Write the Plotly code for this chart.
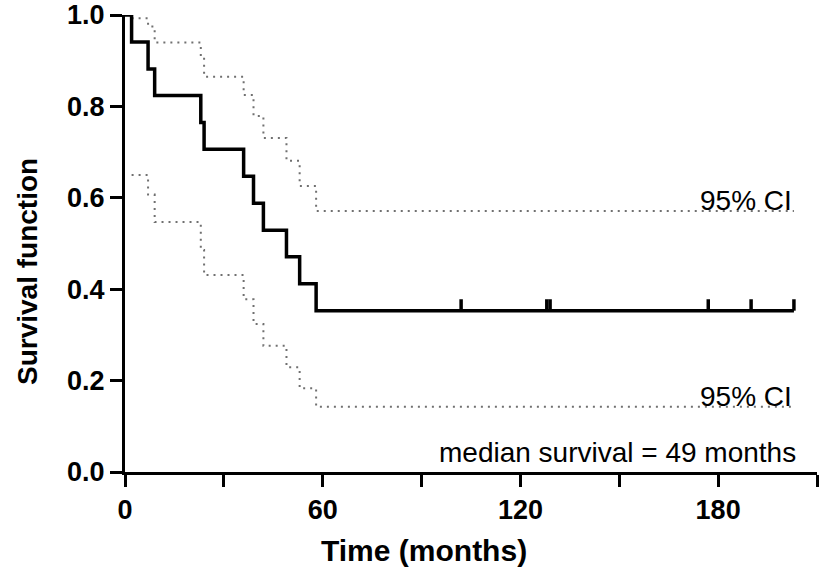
import plotly.graph_objects as go

# Kaplan-Meier estimate (time in months, survival probability)
km_times = [0, 2, 7, 9, 23, 24, 36, 39, 42, 49, 53, 58, 203]
km_surv = [1.0, 0.941, 0.882, 0.824, 0.765, 0.706, 0.647, 0.588, 0.529, 0.471, 0.412, 0.353, 0.353]

# 95% confidence limits
ci_times = [2, 7, 9, 23, 24, 36, 39, 42, 49, 53, 58, 203]
ci_upper = [0.993, 0.975, 0.940, 0.909, 0.865, 0.825, 0.779, 0.731, 0.681, 0.626, 0.571, 0.571]
ci_lower = [0.650, 0.607, 0.547, 0.486, 0.431, 0.378, 0.324, 0.276, 0.229, 0.183, 0.143, 0.143]

# censored observations
censor_times = [102, 128, 129, 177, 190, 203]
censor_surv = 0.353

x_tickvals = [0, 30, 60, 90, 120, 150, 180, 210]
x_ticktext = ["0", "", "60", "", "120", "", "180", ""]
y_tickvals = [0.0, 0.2, 0.4, 0.6, 0.8, 1.0]
y_ticktext = ["0.0", "0.2", "0.4", "0.6", "0.8", "1.0"]

FONT = "Liberation Sans, Arial, Helvetica, sans-serif"
TICK_H = 0.025

fig = go.Figure()

for vals in (ci_upper, ci_lower):
    fig.add_trace(go.Scatter(
        x=ci_times, y=vals, mode="lines", line_shape="hv",
        line=dict(color="#707070", width=2, dash="2px,5px"),
        showlegend=False, hoverinfo="skip"))

fig.add_trace(go.Scatter(
    x=km_times, y=km_surv, mode="lines", line_shape="hv",
    line=dict(color="black", width=3.5), showlegend=False))

cx, cy = [], []
for t in censor_times:
    cx += [t, t, None]
    cy += [censor_surv, censor_surv + TICK_H, None]
fig.add_trace(go.Scatter(x=cx, y=cy, mode="lines",
                         line=dict(color="black", width=3.5), showlegend=False))

fig.add_annotation(x=ci_times[-1], y=ci_upper[-1], text="95% CI", showarrow=False,
                   xanchor="right", yanchor="bottom", yshift=-7,
                   font=dict(family=FONT, size=28, color="black"))
fig.add_annotation(x=ci_times[-1], y=ci_lower[-1], text="95% CI", showarrow=False,
                   xanchor="right", yanchor="bottom", yshift=-7,
                   font=dict(family=FONT, size=28, color="black"))
fig.add_annotation(x=1.0, y=0.0, xref="paper", yref="paper", xshift=-19,
                   text="median survival = 49 months", showarrow=False,
                   xanchor="right", yanchor="bottom", yshift=2,
                   font=dict(family=FONT, size=28, color="black"))

fig.add_annotation(x=0, y=0.4376, xref="paper", yref="paper", xshift=-98,
                   text="<b>Survival function</b>", textangle=-90, showarrow=False,
                   xanchor="center", yanchor="middle",
                   font=dict(family=FONT, size=28, color="black"))
fig.add_annotation(x=0.4328, y=0, xref="paper", yref="paper", yshift=-78,
                   text="<b>Time (months)</b>", showarrow=False,
                   xanchor="center", yanchor="middle",
                   font=dict(family=FONT, size=30, color="black"))

fig.update_xaxes(range=[0, 210], tickvals=x_tickvals, ticktext=x_ticktext,
                 showline=True, linecolor="black", linewidth=3,
                 ticks="outside", ticklen=12, tickwidth=3, tickcolor="black",
                 showgrid=False, zeroline=False, automargin=False,
                 ticklabeloverflow="allow",
                 tickfont=dict(family=FONT, size=27, color="black", weight="bold"))
fig.update_yaxes(range=[0, 1], tickvals=y_tickvals, ticktext=y_ticktext,
                 showline=True, linecolor="black", linewidth=3,
                 ticks="outside", ticklen=12, tickwidth=3, tickcolor="black",
                 showgrid=False, zeroline=False, automargin=False,
                 ticklabeloverflow="allow",
                 tickfont=dict(family=FONT, size=27, color="black", weight="bold"))

fig.update_layout(width=819, height=578, margin=dict(l=125, r=2, t=15, b=106),
                  plot_bgcolor="white", paper_bgcolor="white")

# remove the default 8px page margin so the figure sits at the window origin
fig.write_html("out.html", config={"displayModeBar": False},
               post_script="document.body.style.margin='0';document.body.style.overflow='hidden';")
